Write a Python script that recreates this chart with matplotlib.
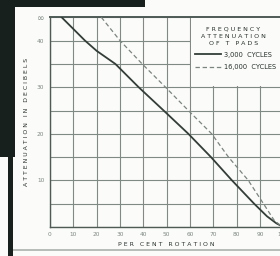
import matplotlib
matplotlib.use("Agg")
import matplotlib.pyplot as plt
from matplotlib.patches import Rectangle

# per cent rotation vs attenuation (db)
rot_3000 = [5, 15, 20, 28, 38, 48.7, 59.3, 69, 78, 87.5, 93, 97, 100]
db_3000 = [45, 40, 37.8, 35, 30, 25, 20, 15, 10, 5, 2.3, 0.8, 0]

rot_16000 = [22, 30, 39.5, 49.5, 59.3, 69.3, 76.5, 85, 91.5, 96, 99.5]
db_16000 = [45, 40, 35, 30, 25, 20, 15, 10, 5, 1.5, 0]

x_ticks = [0, 10, 20, 30, 40, 50, 60, 70, 80, 90, 100]
y_ticks = [10, 20, 30, 40, 45]
y_ticklabels = ["10", "20", "30", "40", "∞"]

W, H = 280, 256
ink = "#26302c"
grid_c = "#7f8a85"
pale = "#7d8883"

fig = plt.figure(figsize=(W / 100, H / 100), dpi=100, facecolor="#fbfbf9")

# scan borders
def px_rect(x0, y0, x1, y1, color):
    fig.add_artist(Rectangle((x0 / W, 1 - y1 / H), (x1 - x0) / W, (y1 - y0) / H,
                             transform=fig.transFigure, color=color, lw=0, zorder=0))

px_rect(0, 0, 145, 7, "#17201c")
px_rect(0, 0, 15, 157, "#17201c")
px_rect(8, 157, 13, 256, "#17201c")
px_rect(13, 249, 280, 250.5, "#b8bdb9")

ax = fig.add_axes([50 / W, (H - 227) / H, 233.3 / W, 209.7 / H])
ax.set_facecolor("#fbfbf9")
ax.set_xlim(0, 100)
ax.set_ylim(0, 45)

ax.set_xticks(x_ticks)
ax.set_yticks(y_ticks)
ax.set_yticklabels(y_ticklabels)
ax.set_yticks(range(0, 46, 5), minor=True)
ax.tick_params(which="both", length=0, labelsize=4.2, labelcolor=pale)
ax.tick_params(axis="y", pad=4.0)
ax.tick_params(axis="x", pad=3.5)
ax.get_yticklabels()[-1].set_fontsize(6.5)
ax.grid(True, which="both", color=grid_c, lw=0.8)
ax.set_axisbelow(True)
for s in ax.spines.values():
    s.set_color("#4e5a55")
    s.set_linewidth(1.0)
ax.spines["top"].set_linewidth(1.4)

# white block behind legend
ax.add_patch(Rectangle((60.3, 30.2), 40, 15, facecolor="#fbfbf9", lw=0, zorder=1))

l1, = ax.plot(rot_3000, db_3000, color="#333e39", lw=1.3, zorder=3)
l2, = ax.plot(rot_16000, db_16000, color="#7a8580", lw=0.9, dashes=(3.5, 2.2), zorder=3)

ax.set_xlabel("P E R   C E N T   R O T A T I O N", fontsize=4.4, color=ink, labelpad=4.0)
ax.set_ylabel("A T T E N U A T I O N   I N   D E C I B E L S", fontsize=4.4, color=ink, labelpad=5.5)

for i, t in enumerate(["F R E Q U E N C Y", "A T T E N U A T I O N", "O F   T   P A D S"]):
    ax.text(78.5, 42.4 - 1.5 * i, t, fontsize=4.5, color=ink, ha="center", va="center")

ax.legend([l1, l2], ["3,000  CYCLES", "16,000  CYCLES"], loc="upper left",
          bbox_to_anchor=(62.1, 37.6), bbox_transform=ax.transData,
          frameon=False, fontsize=4.8, labelcolor=ink, handlelength=3.9,
          handletextpad=0.45, labelspacing=1.0, borderpad=0, borderaxespad=0)

fig.savefig("out.png", dpi=100, facecolor=fig.get_facecolor())
